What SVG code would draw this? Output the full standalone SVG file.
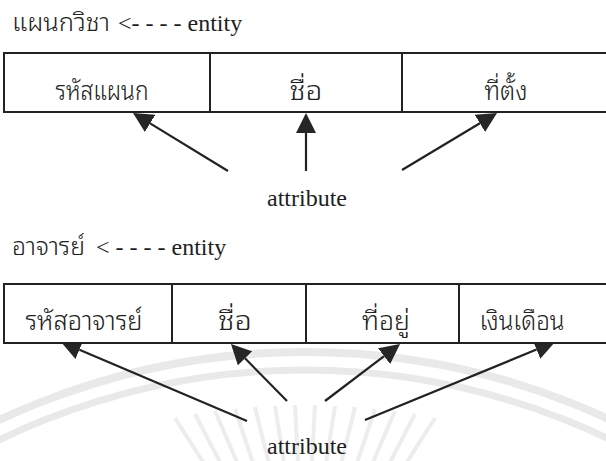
<svg xmlns="http://www.w3.org/2000/svg" width="606" height="461" viewBox="0 0 606 461">
  <style>
    .lbl { font-family: "Liberation Serif", "Noto Sans", serif; font-size: 24px; fill: #1e1e1e; }
    .th { font-family: "Noto Sans Thai Looped", "Noto Sans Thai", "Liberation Serif", sans-serif; font-weight: 300; fill: #222222; }
    .title-th { font-size: 24px; }
    .cell-text { font-size: 26px; text-anchor: middle; }
    .cell { fill: #ffffff; stroke: #222222; stroke-width: 2; }
    .conn { stroke: #222222; stroke-width: 2.2; fill: none; marker-end: url(#head); }
    .mark { stroke: #e9e9e9; fill: none; }
  </style>
  <defs>
    <marker id="head" viewBox="-20 -10 20 20" refX="-20" refY="0" markerWidth="20" markerHeight="20" markerUnits="userSpaceOnUse" orient="auto">
      <path d="M0,0 L-20,-10 L-20,10 Z" fill="#262626"/>
    </marker>
  </defs>

  <rect width="606" height="461" fill="#ffffff"/>

  <!-- faint emblem in the lower background -->
  <g id="emblem">
    <circle class="mark" cx="305" cy="1073" r="721" stroke-width="8"/>
    <circle class="mark" cx="305" cy="1073" r="703" stroke-width="7"/>
    <g stroke="#ededed" stroke-width="4">
      <line x1="175" y1="418" x2="240" y2="520"/>
      <line x1="195" y1="414" x2="250" y2="520"/>
      <line x1="215" y1="411" x2="262" y2="520"/>
      <line x1="235" y1="409" x2="272" y2="520"/>
      <line x1="255" y1="407" x2="283" y2="520"/>
      <line x1="275" y1="406" x2="293" y2="520"/>
      <line x1="295" y1="405" x2="301" y2="520"/>
      <line x1="315" y1="405" x2="309" y2="520"/>
      <line x1="335" y1="406" x2="317" y2="520"/>
      <line x1="355" y1="407" x2="327" y2="520"/>
      <line x1="375" y1="409" x2="338" y2="520"/>
      <line x1="395" y1="411" x2="348" y2="520"/>
      <line x1="415" y1="414" x2="360" y2="520"/>
      <line x1="435" y1="418" x2="370" y2="520"/>
    </g>
  </g>

  <!-- connectors: attribute label to each field -->
  <g id="connectors">
    <line class="conn" x1="228" y1="171" x2="150.1" y2="123.4"/>
    <line class="conn" x1="306" y1="171" x2="306" y2="133"/>
    <line class="conn" x1="402" y1="170" x2="479.9" y2="123.3"/>
    <line class="conn" x1="247" y1="421" x2="79.4" y2="349.8"/>
    <line class="conn" x1="287" y1="401" x2="245" y2="358.3"/>
    <line class="conn" x1="325" y1="401" x2="384.1" y2="356.1"/>
    <line class="conn" x1="365" y1="420" x2="536.5" y2="349.6"/>
  </g>

  <!-- entity: department -->
  <g id="dept-title">
    <text class="th title-th" x="12" y="31" textLength="98" lengthAdjust="spacingAndGlyphs">แผนกวิชา</text>
    <text class="lbl" x="118" y="31">&lt;- - - - entity</text>
  </g>
  <g id="dept-code">
    <rect class="cell" x="4" y="53" width="206" height="59"/>
    <text class="th cell-text" x="102" y="100" textLength="93" lengthAdjust="spacingAndGlyphs">รหัสแผนก</text>
  </g>
  <g id="dept-name">
    <rect class="cell" x="210" y="53" width="192" height="59"/>
    <text class="th cell-text" x="306" y="100" textLength="33" lengthAdjust="spacingAndGlyphs">ชื่อ</text>
  </g>
  <g id="dept-location">
    <rect class="cell" x="402" y="53" width="212" height="59"/>
    <text class="th cell-text" x="506" y="100" textLength="43" lengthAdjust="spacingAndGlyphs">ที่ตั้ง</text>
  </g>
  <g id="dept-attr">
    <text class="lbl" x="307" y="206" text-anchor="middle">attribute</text>
  </g>

  <!-- entity: lecturer -->
  <g id="lect-title">
    <text class="th title-th" x="12" y="255" textLength="73" lengthAdjust="spacingAndGlyphs">อาจารย์</text>
    <text class="lbl" x="96" y="255">&lt; - - - - entity</text>
  </g>
  <g id="lect-code">
    <rect class="cell" x="4" y="284" width="168" height="59"/>
    <text class="th cell-text" x="84" y="330" textLength="117" lengthAdjust="spacingAndGlyphs">รหัสอาจารย์</text>
  </g>
  <g id="lect-name">
    <rect class="cell" x="172" y="284" width="134" height="59"/>
    <text class="th cell-text" x="235" y="330" textLength="34" lengthAdjust="spacingAndGlyphs">ชื่อ</text>
  </g>
  <g id="lect-address">
    <rect class="cell" x="306" y="284" width="153" height="59"/>
    <text class="th cell-text" x="386" y="330" textLength="48" lengthAdjust="spacingAndGlyphs">ที่อยู่</text>
  </g>
  <g id="lect-salary">
    <rect class="cell" x="459" y="284" width="155" height="59"/>
    <text class="th cell-text" x="522" y="330" textLength="85" lengthAdjust="spacingAndGlyphs">เงินเดือน</text>
  </g>
  <g id="lect-attr">
    <text class="lbl" x="307" y="454" text-anchor="middle">attribute</text>
  </g>
</svg>
